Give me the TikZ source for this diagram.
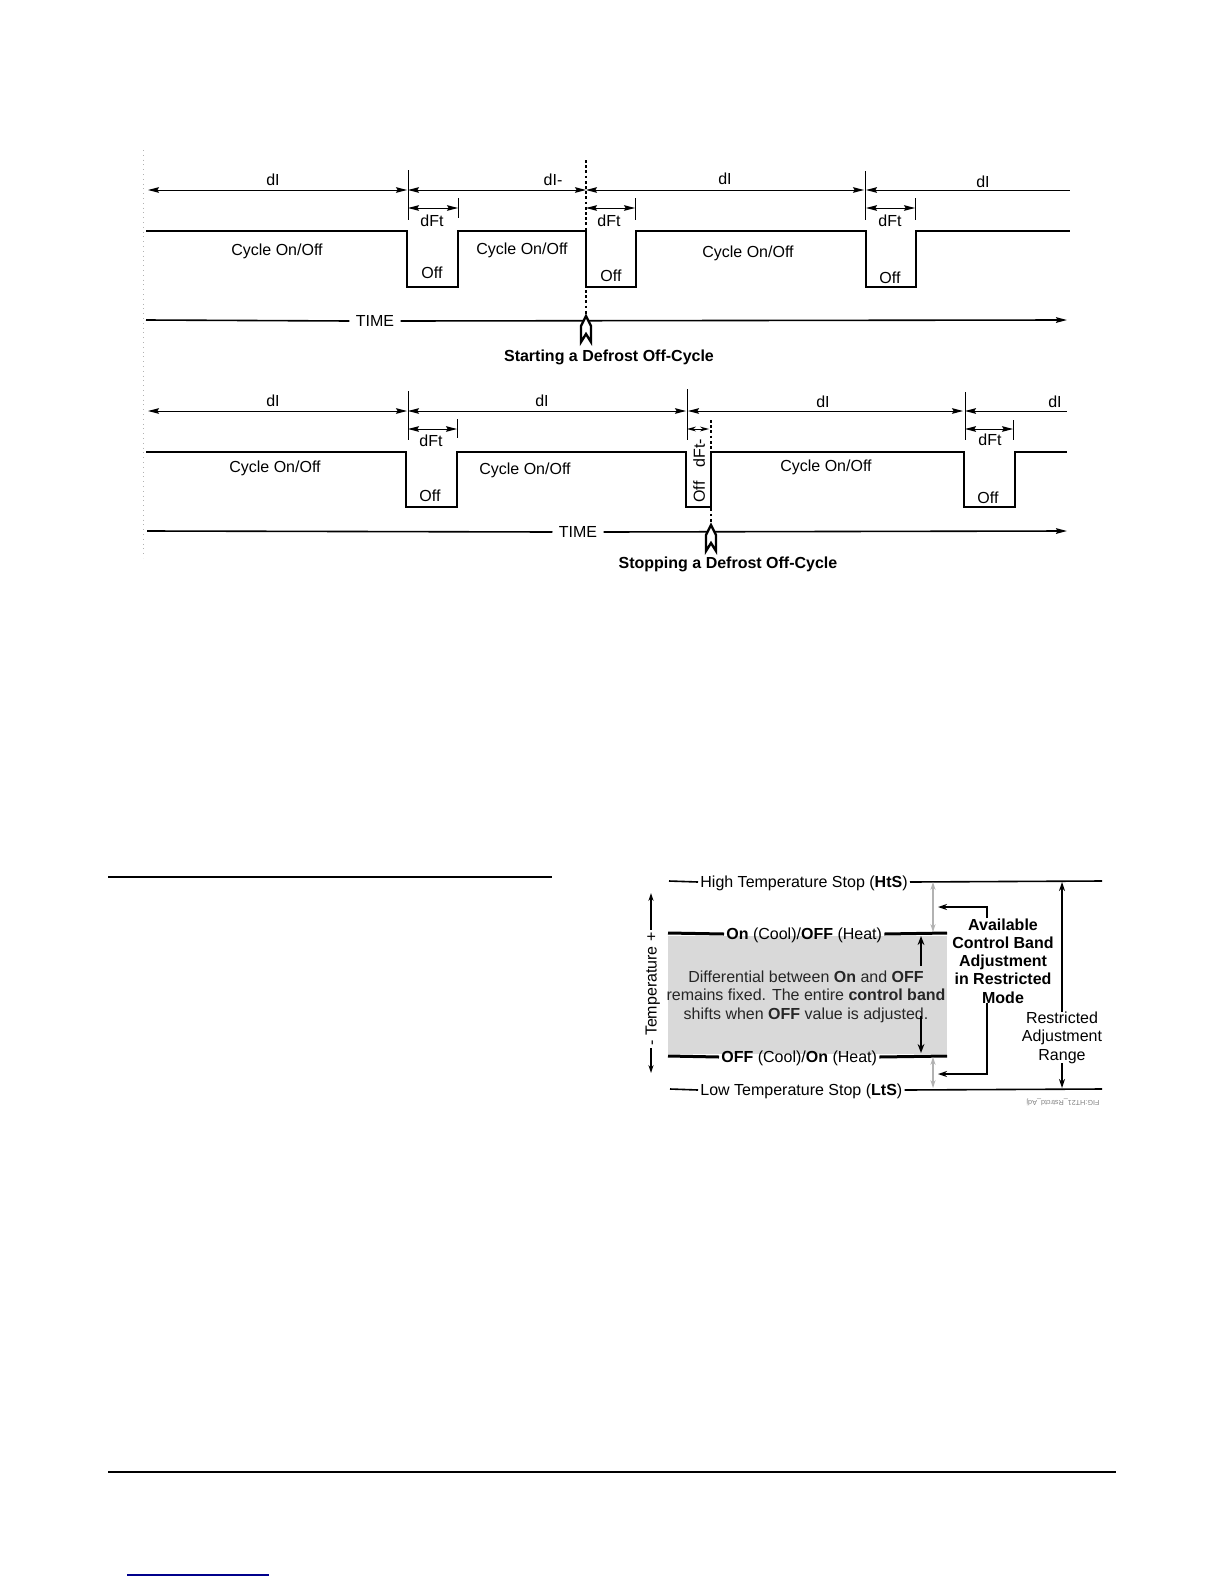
\documentclass[tikz,border=0pt]{standalone}
\usepackage{fontspec}
\setmainfont{Liberation Sans}
\usetikzlibrary{arrows.meta,positioning,calc}

\begin{document}
\begin{tikzpicture}[x=0.5pt,y=-0.5pt,
  >={Stealth[length=5.5pt,width=2.8pt,inset=0.8pt]},
  every node/.style={font=\fontsize{8}{9.1}\selectfont},
  lbl/.style={inner sep=1pt,text depth=0pt},
  bl/.style={inner sep=1pt,font=\fontsize{8}{9.1}\selectfont\bfseries},
  dim/.style={line width=0.5pt},
  tck/.style={line width=0.5pt},
  sig/.style={line width=1.4pt,line join=miter},
  tline/.style={line width=0.8pt},
  dotv/.style={line width=1.3pt,dash pattern=on 1.4pt off 1.2pt},
  guide/.style={gray!60,line width=0.4pt,dotted},
  stopln/.style={line width=0.8pt},
  bandln/.style={line width=1.5pt},
  garr/.style={gray!60,line width=0.7pt,{Stealth[length=4pt,width=2.6pt]}-{Stealth[length=4pt,width=2.6pt]}},
  barr/.style={line width=1pt,-{Stealth[length=4.5pt,width=3.4pt]}},
  chev/.pic={\draw[line width=1.2pt,fill=white,line join=miter] (0,0) -- (5,10) -- (5,26) -- (0,18) -- (-5,26) -- (-5,10) -- cycle;}]
 \useasboundingbox (0,0) rectangle (1224,1584);
 % starting a defrost off-cycle
 \draw[guide] (143,150) -- (143,558);
 \foreach \a/\b in {148/407,408/586,586/864}
   \draw[dim,<->] (\a,190) -- (\b,190);
 \draw[dim,<-] (866,190) -- (1070,190);
 \foreach \x/\a/\b in {408/170/220,458/198/218,635/198/220,865/171/220,915/198/220}
   \draw[tck] (\x,\a) -- (\x,\b);
 \foreach \a/\b in {408/458,586/635,866/915}
   \draw[dim,<->] (\a,208) -- (\b,208);
 \draw[sig] (146,231) -- (407,231) |- (458,287) |- (586,231) |- (636,287) |- (866,231) |- (916,287) |- (1070,231);
 \node[lbl] (dA1) at (273,180) {dI};
 \node[lbl] (dA2) at (553,180) {dI-};
 \node[lbl] (dA3) at (725,179) {dI};
 \node[lbl] (dA4) at (983,182) {dI};
 \node[lbl] (fA1) at (432,221) {dFt};
 \node[lbl] (fA2) at (609,221) {dFt};
 \node[lbl] (fA3) at (890,221) {dFt};
 \node[lbl] (cA1) at (277,250) {Cycle On/Off};
 \node[lbl] (cA2) at (522,249) {Cycle On/Off};
 \node[lbl] (cA3) at (748,252) {Cycle On/Off};
 \node[lbl] (oA1) at (432,273) {Off};
 \node[lbl] (oA2) at (611,276) {Off};
 \node[lbl] (oA3) at (890,278) {Off};
 \coordinate (tA0) at (146,320);
 \coordinate (tA1) at (1067,320);
 \node[lbl] (timeA) at (375,321) {TIME};
 \draw[tline] (tA0) -- ([xshift=-2pt]timeA.west);
 \draw[tline,->] ([xshift=2pt]timeA.east) -- (tA1);
 \draw[dotv] (586,160) -- (586,316);
 \pic at (586,316) {chev};
 \node[bl] (startA) at (609,357) {Starting a Defrost Off-Cycle};
 % stopping a defrost off-cycle
 \foreach \a/\b in {148/407,408/686,688/963}
   \draw[dim,<->] (\a,411) -- (\b,411);
 \draw[dim,<-] (965,411) -- (1067,411);
 \foreach \x/\a/\b in {408/391/440,457/419/438,687/389/440,965/392/440,1013/420/440}
   \draw[tck] (\x,\a) -- (\x,\b);
 \foreach \a/\b in {408/457,965/1013}
   \draw[dim,<->] (\a,429) -- (\b,429);
 \draw[dim,{Stealth[length=4.5pt,width=2.4pt]}-{Stealth[length=4.5pt,width=2.4pt]}] (687,429) -- (709,429);
 \draw[sig] (146,452) -- (406,452) |- (457,507) |- (686,452) |- (711,507) |- (964,452) |- (1015,507) |- (1067,452);
 \node[lbl] (dB1) at (273,401) {dI};
 \node[lbl] (dB2) at (542,401) {dI};
 \node[lbl] (dB3) at (823,402) {dI};
 \node[lbl] (dB4) at (1055,402) {dI};
 \node[lbl] (fB1) at (431,441) {dFt};
 \node[lbl,rotate=90] (fB2) at (699,453) {dFt-};
 \node[lbl] (fB3) at (990,440) {dFt};
 \node[lbl] (cB1) at (275,467) {Cycle On/Off};
 \node[lbl] (cB2) at (525,469) {Cycle On/Off};
 \node[lbl] (cB3) at (826,466) {Cycle On/Off};
 \node[lbl] (oB1) at (430,496) {Off};
 \node[lbl,rotate=90] (oB2) at (699,492) {Off};
 \node[lbl] (oB3) at (988,498) {Off};
 \coordinate (tB0) at (147,531);
 \coordinate (tB1) at (1067,531);
 \node[lbl] (timeB) at (578,532) {TIME};
 \draw[tline] (tB0) -- ([xshift=-2pt]timeB.west);
 \draw[tline,->] ([xshift=2pt]timeB.east) -- (tB1);
 \draw[dotv] (711,420) -- (711,525);
 \pic at (711,525) {chev};
 \node[bl] (stopB) at (728,564) {Stopping a Defrost Off-Cycle};
 % page rules
 \draw[line width=1pt] (108,877) -- (552,877);
 \draw[line width=1pt] (108,1472) -- (1116,1472);
 \draw[blue!55!black,line width=0.6pt] (127,1575) -- (269,1575);
 % control band
 \fill[black!15] (668,936) rectangle (947,1054);
 \node[lbl,anchor=west] (hts) at (698,882) {High Temperature Stop (\textbf{HtS})};
 \node[lbl,anchor=west] (lts) at (698,1090) {Low Temperature Stop (\textbf{LtS})};
 \node[lbl,anchor=west] (onc) at (724,934) {\textbf{On} (Cool)/\textbf{OFF} (Heat)};
 \node[lbl,anchor=west] (offc) at (719,1057) {\textbf{OFF} (Cool)/\textbf{On} (Heat)};
 \coordinate (htsL) at (669,881);
 \coordinate (htsR) at (1102,881);
 \coordinate (ltsL) at (670,1089);
 \coordinate (ltsR) at (1102,1089);
 \coordinate (oncL) at (668,933);
 \coordinate (oncR) at (947,933);
 \coordinate (offL) at (668,1056);
 \coordinate (offR) at (947,1056);
 \draw[stopln] (htsL) -- (hts.west);
 \draw[stopln] (hts.east) -- (htsR);
 \draw[stopln] (ltsL) -- (lts.west);
 \draw[stopln] (lts.east) -- (ltsR);
 \draw[bandln] (oncL) -- (onc.west);
 \draw[bandln] (onc.east) -- (oncR);
 \draw[bandln] (offL) -- (offc.west);
 \draw[bandln] (offc.east) -- (offR);
 \node[lbl,align=center,text=black!85] (diff) at (806,995)
   {Differential between \textbf{On} and \textbf{OFF}\\remains fixed. The entire \textbf{control band}\\shifts when \textbf{OFF} value is adjusted.};
 \draw[barr] (921,966) -- (921,936);
 \draw[barr] (921,1016) -- (921,1053);
 \draw[garr] (933,882) -- (933,932);
 \draw[garr] (933,1057) -- (933,1088);
 \node[lbl,rotate=90] (tmp) at (651,989) {- Temperature +};
 \draw[line width=0.6pt,-{Stealth[length=4pt,width=2.6pt]}] (tmp.east) -- (651,893);
 \draw[line width=0.6pt,-{Stealth[length=4pt,width=2.6pt]}] (tmp.west) -- (651,1073);
 \node[bl,align=center] (avl) at (1003,961) {Available\\Control Band\\Adjustment\\in Restricted\\Mode};
 \draw[line width=0.8pt,-{Stealth[length=4.5pt,width=3pt]}] (987,918) |- (938,907);
 \draw[line width=0.8pt,-{Stealth[length=4.5pt,width=3pt]}] (987,1003) |- (938,1074);
 \node[lbl,align=center] (rng) at (1062,1036) {Restricted\\Adjustment\\Range};
 \draw[line width=0.8pt,-{Stealth[length=4.5pt,width=3pt]}] (1062,1012) -- (1062,882);
 \draw[line width=0.8pt,-{Stealth[length=4.5pt,width=3pt]}] (1062,1063) -- (1062,1088);
 \node[font=\fontsize{3.6}{4}\selectfont,text=gray,rotate=180,inner sep=0pt] (fig) at (1063,1102) {FIG:HT21\_Rstrctd\_Adj};
\end{tikzpicture}
\end{document}
